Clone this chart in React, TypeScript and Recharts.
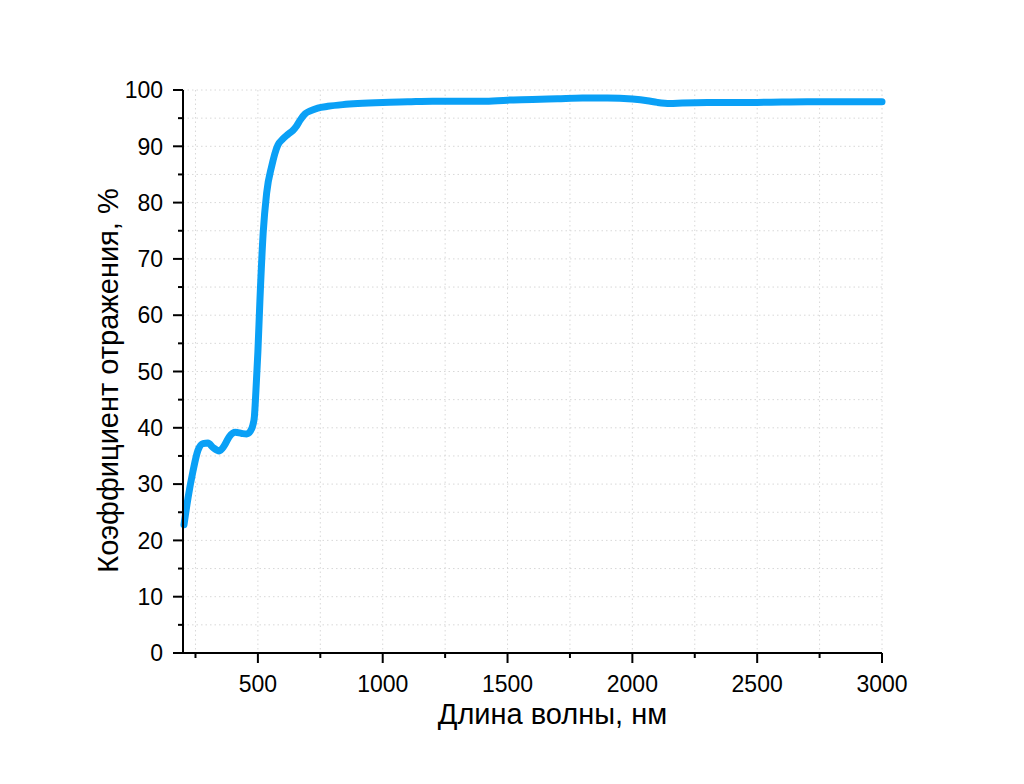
import { LineChart, Line, XAxis, YAxis, CartesianGrid, Label } from "recharts";

// длина волны, нм
const wavelength = [
  204, 220, 240, 260, 280, 300, 320, 345, 365, 385, 410, 435, 455, 470, 480,
  486, 492, 500, 508, 521, 535, 555, 580, 600, 620, 640, 655, 670, 690, 710,
  740, 780, 840, 900, 1000, 1100, 1200, 1300, 1400, 1500, 1600, 1700, 1800,
  1900, 2000, 2060, 2100, 2150, 2200, 2300, 2500, 2700, 3000,
];

// коэффициент отражения, %
const reflectance = [
  22.8, 27.5, 32.3, 36.0, 37.2, 37.3, 36.5, 35.9, 36.8, 38.4, 39.2, 39.0,
  38.9, 39.4, 40.5, 42.0, 46.5, 53.5, 62.5, 74.5, 81.7, 86.4, 90.2, 91.3,
  92.1, 92.8, 93.6, 94.7, 95.8, 96.3, 96.8, 97.1, 97.4, 97.6, 97.8, 97.9,
  98.0, 98.0, 98.0, 98.2, 98.3, 98.45, 98.6, 98.6, 98.4, 98.1, 97.8, 97.6,
  97.7, 97.8, 97.8, 97.9, 97.9,
];

const xTicks = [250, 500, 750, 1000, 1250, 1500, 1750, 2000, 2250, 2500, 2750, 3000];
const yTicks = [0, 5, 10, 15, 20, 25, 30, 35, 40, 45, 50, 55, 60, 65, 70, 75, 80, 85, 90, 95, 100];

const data = wavelength.map((wl, i) => ({ wl, r: reflectance[i] }));

const FONT = "'Liberation Sans', Arial, sans-serif";
const LINE_COLOR = "#0aa0f6";

const XTick = ({ x, y, payload }: any) => {
  const major = payload.value % 500 === 0;
  return (
    <g>
      <line x1={x} y1={y} x2={x} y2={y + (major ? 10 : 5)} stroke="#000" strokeWidth={2} />
      {major && (
        <text x={x} y={y + 39} textAnchor="middle" fontSize={23} fontFamily={FONT} fill="#000">
          {payload.value}
        </text>
      )}
    </g>
  );
};

const YTick = ({ x, y, payload }: any) => {
  const major = payload.value % 10 === 0;
  return (
    <g>
      <line x1={x} y1={y} x2={x - (major ? 10 : 5)} y2={y} stroke="#000" strokeWidth={2} />
      {major && (
        <text x={x - 20} y={y} dy="0.36em" textAnchor="end" fontSize={23} fontFamily={FONT} fill="#000">
          {payload.value}
        </text>
      )}
    </g>
  );
};

export default function App() {
  return (
    <div style={{ width: 1000, height: 760, background: "#fff" }}>
      <LineChart
        width={1000}
        height={760}
        data={data}
        margin={{ top: 82, right: 126, left: 95, bottom: 35 }}
      >
        <CartesianGrid stroke="#d8d8d8" strokeDasharray="1.5 3" strokeWidth={1} />
        <XAxis
          dataKey="wl"
          type="number"
          domain={[200, 3000]}
          ticks={xTicks}
          interval={0}
          height={80}
          tick={<XTick />}
          tickLine={false}
          tickSize={0}
          tickMargin={0}
          axisLine={{ stroke: "#000", strokeWidth: 2 }}
        >
          <Label
            content={({ viewBox }: any) => (
              <text
                x={viewBox.x + viewBox.width / 2 + 20}
                y={viewBox.y + 71}
                textAnchor="middle"
                fontSize={29}
                fontFamily={FONT}
                fill="#000"
              >
                Длина волны, нм
              </text>
            )}
          />
        </XAxis>
        <YAxis
          type="number"
          domain={[0, 100]}
          ticks={yTicks}
          interval={0}
          width={80}
          tick={<YTick />}
          tickLine={false}
          tickSize={0}
          tickMargin={0}
          axisLine={{ stroke: "#000", strokeWidth: 2 }}
        >
          <Label
            content={({ viewBox }: any) => {
              const lx = viewBox.x + 15;
              const ly = viewBox.y + viewBox.height / 2 + 9;
              return (
                <text
                  x={lx}
                  y={ly}
                  transform={`rotate(-90, ${lx}, ${ly})`}
                  textAnchor="middle"
                  fontSize={29}
                  fontFamily={FONT}
                  fill="#000"
                >
                  Коэффициент отражения, %
                </text>
              );
            }}
          />
        </YAxis>
        <Line
          type="monotone"
          dataKey="r"
          stroke={LINE_COLOR}
          strokeWidth={7}
          strokeLinecap="round"
          dot={false}
          isAnimationActive={false}
        />
      </LineChart>
    </div>
  );
}
